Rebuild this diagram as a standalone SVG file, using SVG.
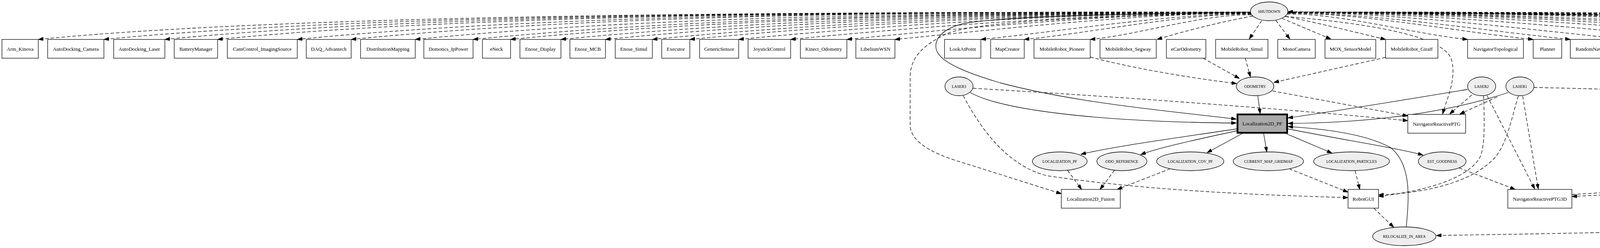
<svg xmlns="http://www.w3.org/2000/svg" width="6130" height="635" viewBox="0 0 6130 635">
<defs>
<marker id="a" viewBox="0 0 13 9" refX="13" refY="4.5" markerWidth="13" markerHeight="9" markerUnits="userSpaceOnUse" orient="auto">
<path d="M0,0 L13,4.5 L0,9 z" fill="#000" stroke="#000" stroke-width="1"/>
</marker>
<style>
.b rect{fill:#fff;stroke:#000;stroke-width:1.3}
.m rect{fill:#aaaaaa;stroke:#000;stroke-width:4.5}
.o ellipse{fill:#eeeeee;stroke:#000;stroke-width:1.3}
text{font-family:"Liberation Serif","Times New Roman",serif;text-anchor:middle;fill:#000}
.b text,.m text{font-size:13px}
.o text{font-size:10px}
#edges path{fill:none;stroke:#000;stroke-width:1.3;marker-end:url(#a)}
#edges path.d{stroke-dasharray:9 5}
</style>
</defs>
<rect width="6130" height="635" fill="#fff"/>
<g id="edges">
<path class="d" d="M3203,31 C2272,31 798,31 98,101"/>
<path class="d" d="M3203,31 C2322,31 966,31 266,101"/>
<path class="d" d="M3203,31 C2369,31 1122,31 422,101"/>
<path class="d" d="M3203,31 C2409,31 1257,31 557,101"/>
<path class="d" d="M3203,31 C2470,31 1461,31 761,101"/>
<path class="d" d="M3203,31 C2512,31 1599,31 899,101"/>
<path class="d" d="M3203,31 C2561,31 1705,37 1063,101"/>
<path class="d" d="M3203,32 C2605,31 1809,41 1211,101"/>
<path class="d" d="M3203,32 C2634,31 1876,44 1307,101"/>
<path class="d" d="M3203,32 C2673,31 1966,48 1436,101"/>
<path class="d" d="M3203,32 C2707,31 2046,51 1550,101"/>
<path class="d" d="M3203,32 C2743,31 2130,55 1670,101"/>
<path class="d" d="M3203,33 C2772,31 2197,58 1766,101"/>
<path class="d" d="M3203,33 C2809,31 2285,62 1891,101"/>
<path class="d" d="M3203,33 C2849,32 2378,66 2024,101"/>
<path class="d" d="M3203,33 C2893,32 2479,70 2168,101"/>
<path class="d" d="M3203,34 C2929,33 2565,74 2291,101"/>
<path class="d" d="M3203,35 C2995,35 2719,80 2511,101"/>
<path class="d" d="M3203,36 C3029,35 2796,84 2622,101"/>
<path class="d" d="M3203,38 C3079,36 2915,89 2791,101"/>
<path class="d" d="M3207,41 C3130,55 3030,80 2962,101"/>
<path class="d" d="M3230,53 L3198,100"/>
<path class="d" d="M3266,52 L3302,100"/>
<path class="d" d="M3282,47 L3407,100"/>
<path class="d" d="M3291,42 C3380,60 3480,85 3547,101"/>
<path class="d" d="M3295,36 C3433,34 3619,87 3757,101"/>
<path class="d" d="M3295,34 C3485,33 3736,82 3925,101"/>
<path class="d" d="M3296,33 C3513,33 3803,79 4020,101"/>
<path class="d" d="M3296,32 C3557,31 3906,75 4167,101"/>
<path class="d" d="M3296,32 C3612,31 4033,69 4349,101"/>
<path class="d" d="M3296,32 C3663,31 4153,64 4520,101"/>
<path class="d" d="M3296,31 C3701,31 4242,60 4647,101"/>
<path class="d" d="M3296,31 C3737,31 4324,57 4765,101"/>
<path class="d" d="M3296,31 C3769,31 4401,54 4874,101"/>
<path class="d" d="M3296,31 C3822,31 4522,48 5048,101"/>
<path class="d" d="M3296,31 C3859,31 4611,45 5174,101"/>
<path class="d" d="M3296,31 C3895,31 4694,41 5293,101"/>
<path class="d" d="M3296,31 C3932,31 4779,37 5415,101"/>
<path class="d" d="M3296,31 C3966,31 4860,34 5530,101"/>
<path class="d" d="M3296,31 C4014,31 4988,31 5688,101"/>
<path class="d" d="M3296,31 C4051,31 5111,31 5811,101"/>
<path class="d" d="M3296,31 C4123,31 5353,31 6053,101"/>
<path d="M3202,31 C3000,34 2620,38 2480,58 C2400,72 2390,110 2398,130 C2410,160 2470,185 2560,212 C2760,265 3000,285 3165,305"/>
<path class="d" d="M3202,33 C2900,40 2500,50 2420,88 C2345,125 2330,160 2330,200 L2330,320 C2330,360 2380,390 2450,412 C2550,443 2640,472 2717,496"/>
<path class="d" d="M3290,42 C3500,60 3690,90 3715,150 C3730,200 3705,250 3693,292"/>
<path class="d" d="M3297,31 C4500,40 5700,60 5960,92 C6010,110 6030,160 6038,220 L6040,293"/>
<path class="d" d="M3297,31 C4500,40 5600,60 5890,96 C5935,110 5945,160 5920,200 C5850,290 5400,380 5000,430 C4600,470 4300,490 4024,503"/>
<path class="d" d="M4024,498 C4300,482 4600,462 5000,420 C5450,372 5900,290 5952,200 C5977,150 5962,110 5915,98 C5600,60 4500,38 3297,30"/>
<path class="d" d="M2791,146 C2900,175 3050,200 3166,214"/>
<path class="d" d="M3080,149 L3173,201"/>
<path class="d" d="M3188,149 L3201,197"/>
<path class="d" d="M3547,147 L3261,211"/>
<path d="M3220,245 L3226,291"/>
<path class="d" d="M3258,233 L3604,297"/>
<path d="M2484,237 C2560,280 2800,312 3165,315"/>
<path class="d" d="M2491,226 C2900,250 3300,280 3604,309"/>
<path class="d" d="M2466,245 C2510,330 2580,425 2680,450 C2950,490 3250,500 3451,506"/>
<path d="M3757,229 C3600,255 3450,280 3297,302"/>
<path class="d" d="M3768,243 L3711,292"/>
<path class="d" d="M3798,245 C3800,300 3802,370 3790,400 C3760,460 3640,490 3529,503"/>
<path class="d" d="M3807,245 L3929,484"/>
<path d="M3861,237 C3700,290 3500,315 3297,316"/>
<path class="d" d="M3833,248 L3737,292"/>
<path class="d" d="M3887,246 C3870,300 3860,360 3830,400 C3770,470 3640,495 3529,499"/>
<path class="d" d="M3898,246 L3938,484"/>
<path class="d" d="M3927,224 C4500,235 5200,280 5980,313"/>
<path d="M3166,330 C3000,355 2850,375 2767,395"/>
<path d="M3166,335 C3050,360 2960,380 2920,396"/>
<path d="M3180,342 L3090,391"/>
<path d="M3235,342 L3243,389"/>
<path d="M3292,342 L3410,392"/>
<path d="M3297,330 C3450,360 3580,380 3643,397"/>
<path class="d" d="M2733,436 L2769,485"/>
<path class="d" d="M2853,436 L2816,485"/>
<path class="d" d="M2996,432 L2860,485"/>
<path class="d" d="M3300,432 L3451,492"/>
<path class="d" d="M3469,437 L3481,485"/>
<path class="d" d="M3735,430 L3879,485"/>
<path class="d" d="M3517,533 L3568,582"/>
<path d="M3600,581 C3608,500 3612,420 3560,378 C3500,345 3400,330 3297,324"/>
<path class="d" d="M6031,341 C6010,400 5990,430 5940,450 C5700,520 5200,560 4500,585 C4100,597 3850,600 3677,603"/>
</g>
<g id="Arm_Kinova" class="b"><rect x="5" y="101" width="93" height="48"/><text x="51.5" y="129.5">Arm_Kinova</text></g>
<g id="AutoDocking_Camera" class="b"><rect x="122" y="101" width="144" height="48"/><text x="194" y="129.5">AutoDocking_Camera</text></g>
<g id="AutoDocking_Laser" class="b"><rect x="291" y="101" width="131" height="48"/><text x="356.5" y="129.5">AutoDocking_Laser</text></g>
<g id="BatteryManager" class="b"><rect x="446" y="101" width="111" height="48"/><text x="501.5" y="129.5">BatteryManager</text></g>
<g id="CamControl_ImagingSource" class="b"><rect x="582" y="101" width="179" height="48"/><text x="671.5" y="129.5">CamControl_ImagingSource</text></g>
<g id="DAQ_Advantech" class="b"><rect x="784" y="101" width="115" height="48"/><text x="841.5" y="129.5">DAQ_Advantech</text></g>
<g id="DistributionMapping" class="b"><rect x="923" y="101" width="140" height="48"/><text x="993" y="129.5">DistributionMapping</text></g>
<g id="Domotics_IpPower" class="b"><rect x="1085" y="101" width="126" height="48"/><text x="1148" y="129.5">Domotics_IpPower</text></g>
<g id="eNeck" class="b"><rect x="1235" y="101" width="72" height="48"/><text x="1271" y="129.5">eNeck</text></g>
<g id="Enose_Display" class="b"><rect x="1331" y="101" width="105" height="48"/><text x="1383.5" y="129.5">Enose_Display</text></g>
<g id="Enose_MCB" class="b"><rect x="1459" y="101" width="91" height="48"/><text x="1504.5" y="129.5">Enose_MCB</text></g>
<g id="Enose_Simul" class="b"><rect x="1575" y="101" width="95" height="48"/><text x="1622.5" y="129.5">Enose_Simul</text></g>
<g id="Executor" class="b"><rect x="1694" y="101" width="72" height="48"/><text x="1730" y="129.5">Executor</text></g>
<g id="GenericSensor" class="b"><rect x="1791" y="101" width="100" height="48"/><text x="1841" y="129.5">GenericSensor</text></g>
<g id="JoystickControl" class="b"><rect x="1915" y="101" width="109" height="48"/><text x="1969.5" y="129.5">JoystickControl</text></g>
<g id="Kinect_Odometry" class="b"><rect x="2049" y="101" width="119" height="48"/><text x="2108.5" y="129.5">Kinect_Odometry</text></g>
<g id="LibeliumWSN" class="b"><rect x="2191" y="101" width="100" height="48"/><text x="2241" y="129.5">LibeliumWSN</text></g>
<g id="LookAtPoint" class="b"><rect x="2418" y="101" width="93" height="48"/><text x="2464.5" y="129.5">LookAtPoint</text></g>
<g id="MapCreator" class="b"><rect x="2536" y="101" width="86" height="48"/><text x="2579" y="129.5">MapCreator</text></g>
<g id="MobileRobot_Pioneer" class="b"><rect x="2647" y="101" width="144" height="48"/><text x="2719" y="129.5">MobileRobot_Pioneer</text></g>
<g id="MobileRobot_Segway" class="b"><rect x="2816" y="101" width="144" height="48"/><text x="2888" y="129.5">MobileRobot_Segway</text></g>
<g id="eCarOdometry" class="b"><rect x="2986" y="101" width="101" height="48"/><text x="3036.5" y="129.5">eCarOdometry</text></g>
<g id="MobileRobot_Simul" class="b"><rect x="3112" y="101" width="134" height="48"/><text x="3179" y="129.5">MobileRobot_Simul</text></g>
<g id="MonoCamera" class="b"><rect x="3271" y="101" width="96" height="48"/><text x="3319" y="129.5">MonoCamera</text></g>
<g id="MOX_SensorModel" class="b"><rect x="3392" y="101" width="130" height="48"/><text x="3457" y="129.5">MOX_SensorModel</text></g>
<g id="MobileRobot_Giraff" class="b"><rect x="3547" y="101" width="134" height="48"/><text x="3614" y="129.5">MobileRobot_Giraff</text></g>
<g id="NavigatorTopological" class="b"><rect x="3757" y="101" width="143" height="48"/><text x="3828.5" y="129.5">NavigatorTopological</text></g>
<g id="Planner" class="b"><rect x="3925" y="101" width="73" height="48"/><text x="3961.5" y="129.5">Planner</text></g>
<g id="RandomNavigator" class="b"><rect x="4020" y="101" width="123" height="48"/><text x="4081.5" y="129.5">RandomNavigator</text></g>
<g id="RGBDSensorToReactive" class="b"><rect x="4167" y="101" width="158" height="48"/><text x="4246" y="129.5">RGBDSensorToReactive</text></g>
<g id="RobotControlManager" class="b"><rect x="4349" y="101" width="147" height="48"/><text x="4422.5" y="129.5">RobotControlManager</text></g>
<g id="SessionLogger" class="b"><rect x="4520" y="101" width="102" height="48"/><text x="4571" y="129.5">SessionLogger</text></g>
<g id="SpeechSynth" class="b"><rect x="4647" y="101" width="93" height="48"/><text x="4693.5" y="129.5">SpeechSynth</text></g>
<g id="StateCharts" class="b"><rect x="4765" y="101" width="84" height="48"/><text x="4807" y="129.5">StateCharts</text></g>
<g id="TEST_extRGBDSensor" class="b"><rect x="4874" y="101" width="149" height="48"/><text x="4948.5" y="129.5">TEST_extRGBDSensor</text></g>
<g id="TextInterpreter" class="b"><rect x="5048" y="101" width="103" height="48"/><text x="5099.5" y="129.5">TextInterpreter</text></g>
<g id="TwitterAgent" class="b"><rect x="5174" y="101" width="96" height="48"/><text x="5222" y="129.5">TwitterAgent</text></g>
<g id="VoiceFestival" class="b"><rect x="5293" y="101" width="98" height="48"/><text x="5342" y="129.5">VoiceFestival</text></g>
<g id="VoiceVerbio" class="b"><rect x="5415" y="101" width="91" height="48"/><text x="5460.5" y="129.5">VoiceVerbio</text></g>
<g id="Wifi_KeepCoverage" class="b"><rect x="5530" y="101" width="133" height="48"/><text x="5596.5" y="129.5">Wifi_KeepCoverage</text></g>
<g id="Wifi_Monitor" class="b"><rect x="5688" y="101" width="98" height="48"/><text x="5737" y="129.5">Wifi_Monitor</text></g>
<g id="WorldModel" class="b"><rect x="5811" y="101" width="91" height="48"/><text x="5856.5" y="129.5">WorldModel</text></g>
<g id="Agenda" class="b"><rect x="6053" y="101" width="71" height="48"/><text x="6088.5" y="129.5">Agenda</text></g>
<g id="SHUTDOWN" class="o"><ellipse cx="3249" cy="29" rx="48" ry="24"/><text x="3249" y="32.5">SHUTDOWN</text></g>
<g id="ODOMETRY" class="o"><ellipse cx="3213" cy="221" rx="48" ry="24"/><text x="3213" y="224.5">ODOMETRY</text></g>
<g id="LASER3" class="o"><ellipse cx="2455" cy="221" rx="36" ry="24"/><text x="2455" y="224.5">LASER3</text></g>
<g id="LASER2" class="o"><ellipse cx="3793" cy="221" rx="36" ry="24"/><text x="3793" y="224.5">LASER2</text></g>
<g id="LASER1" class="o"><ellipse cx="3891" cy="221" rx="36" ry="24"/><text x="3891" y="224.5">LASER1</text></g>
<g id="Localization2D_PF" class="m"><rect x="3168" y="293" width="127" height="47"/><text x="3231.5" y="321">Localization2D_PF</text></g>
<g id="NavigatorReactivePTG" class="b"><rect x="3604" y="293" width="148" height="48"/><text x="3678" y="321.5">NavigatorReactivePTG</text></g>
<g id="MQTTMosquitto" class="b"><rect x="5980" y="293" width="116" height="48"/><text x="6038" y="321.5">MQTTMosquitto</text></g>
<g id="LOCALIZATION_PF" class="o"><ellipse cx="2713" cy="413" rx="70" ry="24"/><text x="2713" y="416.5">LOCALIZATION_PF</text></g>
<g id="ODO_REFERENCE" class="o"><ellipse cx="2872" cy="413" rx="64" ry="24"/><text x="2872" y="416.5">ODO_REFERENCE</text></g>
<g id="LOCALIZATION_COV_PF" class="o"><ellipse cx="3047" cy="413" rx="86" ry="24"/><text x="3047" y="416.5">LOCALIZATION_COV_PF</text></g>
<g id="CURRENT_MAP_GRIDMAP" class="o"><ellipse cx="3247" cy="413" rx="90" ry="24"/><text x="3247" y="416.5">CURRENT_MAP_GRIDMAP</text></g>
<g id="LOCALIZATION_PARTICLES" class="o"><ellipse cx="3460" cy="413" rx="97" ry="24"/><text x="3460" y="416.5">LOCALIZATION_PARTICLES</text></g>
<g id="EST_GOODNESS" class="o"><ellipse cx="3692" cy="413" rx="61" ry="24"/><text x="3692" y="416.5">EST_GOODNESS</text></g>
<g id="Localization2D_Fusion" class="b"><rect x="2717" y="485" width="151" height="48"/><text x="2792.5" y="513.5">Localization2D_Fusion</text></g>
<g id="RobotGUI" class="b"><rect x="3451" y="485" width="78" height="48"/><text x="3490" y="513.5">RobotGUI</text></g>
<g id="NavigatorReactivePTG3D" class="b"><rect x="3860" y="485" width="164" height="48"/><text x="3942" y="513.5">NavigatorReactivePTG3D</text></g>
<g id="RELOCALIZE_IN_AREA" class="o"><ellipse cx="3595" cy="605" rx="81" ry="24"/><text x="3595" y="608.5">RELOCALIZE_IN_AREA</text></g>
</svg>
